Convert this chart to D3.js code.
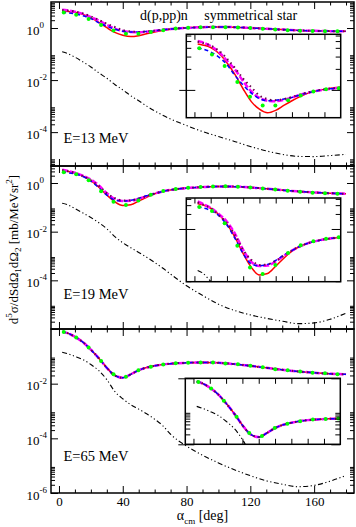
<!DOCTYPE html>
<html>
<head>
<meta charset="utf-8">
<script src="https://cdn.jsdelivr.net/npm/d3@7"></script>
<style>
  html, body { margin: 0; padding: 0; background: #fff; }
  svg text { font-family: "Liberation Serif", "DejaVu Serif", serif; fill: #000; }
</style>
</head>
<body>
<svg id="chart" width="356" height="527"></svg>
<script>
const ALPHA = [2,5,10,15,20,25,30,35,40,45,50,55,60,65,70,80,90,100,110,120,130,140,150,160,170,180];
// angles of the green symbols
const GREEN_ALPHA = [3,10.8,18.6,26.4,34.2,42,49.8,57.6,65.4,73.2,81,88.8,96.6,104.4,112.2,120,127.8,135.6,143.4,151.2,159,166.8,174.6];
const X_MAJOR = [0,40,80,120,160];
const X_MINOR = [10,20,30,50,60,70,90,100,110,130,140,150,170,180];
const INSET_X_TICKS = [0,10,20,30,40,50,60,70,80];

// E = 13 MeV
const e13Red     = [4.55,4.4,4.05,3.35,2.45,1.65,1.03,0.68,0.53,0.47,0.51,0.6,0.7,0.8,0.9,1.02,1.09,1.1,1.08,1.01,0.94,0.87,0.81,0.78,0.76,0.75];
const e13Blue    = [4.0,3.85,3.5,2.95,2.3,1.6,1.17,0.9,0.75,0.7,0.71,0.74,0.78,0.85,0.91,1.01,1.07,1.1,1.08,1.01,0.94,0.87,0.81,0.78,0.76,0.75];
const e13Magenta = [5.0,4.8,4.25,3.5,2.62,1.95,1.33,0.95,0.77,0.7,0.69,0.72,0.78,0.85,0.91,1.01,1.07,1.1,1.08,1.01,0.94,0.87,0.81,0.78,0.76,0.75];
const e13Dotted  = [4.9,4.7,4.3,3.65,2.8,2.05,1.45,1.09,0.83,0.74,0.71,0.74,0.79,0.86,0.92,1.02,1.08,1.1,1.08,1.01,0.94,0.87,0.81,0.78,0.76,0.75];
const e13Green   = [3.95,3.22,2.2,1.3,0.8,0.6,0.6,0.71,0.83,0.95,1.02,1.06,1.08,1.08,1.05,1.0,0.94,0.88,0.83,0.79,0.77,0.76,0.75];
const e13Plain   = [0.123,0.107,0.076,0.05,0.032,0.019,0.0117,0.0068,0.0042,0.0025,0.0016,1.0e-3,6.6e-4,4.5e-4,3.2e-4,1.8e-4,1.05e-4,6.8e-5,4.4e-5,2.8e-5,1.9e-5,1.4e-5,1.17e-5,1.15e-5,1.26e-5,1.4e-5];

// E = 19 MeV
const e19Red     = [3.2,3.05,2.6,1.95,1.25,0.68,0.32,0.17,0.12,0.128,0.18,0.26,0.36,0.45,0.52,0.62,0.68,0.72,0.71,0.66,0.58,0.51,0.45,0.41,0.38,0.36];
const e19Blue    = [2.8,2.65,2.35,1.85,1.2,0.64,0.32,0.2,0.183,0.195,0.235,0.3,0.37,0.45,0.52,0.62,0.68,0.72,0.71,0.66,0.58,0.51,0.45,0.41,0.38,0.36];
const e19Magenta = [3.55,3.2,2.65,2.0,1.4,0.8,0.38,0.22,0.182,0.185,0.225,0.29,0.37,0.45,0.52,0.62,0.68,0.72,0.71,0.66,0.58,0.51,0.45,0.41,0.38,0.36];
const e19Dotted  = [3.4,3.1,2.6,1.9,1.3,0.75,0.38,0.24,0.19,0.195,0.23,0.29,0.37,0.45,0.52,0.62,0.68,0.72,0.71,0.66,0.58,0.51,0.45,0.41,0.38,0.36];
const e19Green   = [2.75,2.3,1.3,0.46,0.17,0.125,0.19,0.33,0.47,0.57,0.64,0.68,0.72,0.73,0.71,0.66,0.6,0.54,0.48,0.44,0.4,0.38,0.36];
const e19Plain   = [0.148,0.132,0.089,0.059,0.038,0.0234,0.0132,0.0063,0.0035,0.0022,0.0014,8.9e-4,5.4e-4,3.2e-4,1.8e-4,6.0e-5,2.4e-5,1.05e-5,5.8e-6,3.8e-6,2.75e-6,2.1e-6,1.66e-6,1.78e-6,2.5e-6,4.5e-6];

// E = 65 MeV (all full calculations coincide)
const e65Theory  = [0.8,0.72,0.52,0.33,0.175,0.085,0.038,0.02,0.0165,0.022,0.031,0.039,0.045,0.05,0.054,0.058,0.06,0.058,0.052,0.045,0.038,0.032,0.028,0.025,0.023,0.022];
const e65Green   = [0.77,0.49,0.21,0.068,0.022,0.018,0.031,0.042,0.05,0.056,0.058,0.06,0.059,0.055,0.051,0.045,0.04,0.034,0.031,0.028,0.025,0.024,0.022];
const e65Plain   = [0.141,0.126,0.1,0.076,0.05,0.03,0.0141,0.0052,0.0028,0.0017,0.00117,7.9e-4,5.0e-4,2.95e-4,1.41e-4,5.2e-5,2.4e-5,1.26e-5,7.1e-6,4.3e-6,2.8e-6,2.1e-6,1.7e-6,1.9e-6,2.7e-6,4.4e-6];

const e13Labels = [0,-2,-4], e19Labels = [0,-2,-4], e65Labels = [-2,-4,-6];

const panels = [
  { top: 2,   bottom: 166, domain: [5e-6, 10], labels: e13Labels, title: "E=13 MeV", titleY: 143,
    red: e13Red, blue: e13Blue, magenta: e13Magenta, dotted: e13Dotted, green: e13Green, plain: e13Plain,
    inset: { x0: 186.3, x1: 340.7, y0: 34.3, y1: 117.7, domain: [0.4, 6.25] } },
  { top: 166, bottom: 329, domain: [1e-6, 5], labels: e19Labels, title: "E=19 MeV", titleY: 298.5,
    red: e19Red, blue: e19Blue, magenta: e19Magenta, dotted: e19Dotted, green: e19Green, plain: e19Plain,
    inset: { x0: 186.3, x1: 340.7, y0: 198, y1: 281.7, domain: [0.088, 4.17] } },
  { top: 329, bottom: 493, domain: [1e-6, 1], labels: e65Labels, title: "E=65 MeV", titleY: 461,
    red: e65Theory, blue: e65Theory, magenta: e65Theory, dotted: e65Theory, green: e65Green, plain: e65Plain,
    inset: { x0: 185.3, x1: 340.3, y0: 378.3, y1: 444.3, domain: [0.01, 1] } }
];

const svg = d3.select("#chart");
const X0 = 51, X1 = 354;
const x = d3.scaleLinear().domain([-5, 185]).range([X0, X1]);

// xmgrace style: majors every second decade, minors 2..9 in those decades
function logTicks(domain, minor) {
  const out = [];
  const lo = Math.floor(Math.log10(domain[0])), hi = Math.ceil(Math.log10(domain[1]));
  for (let e = lo; e <= hi; e++) {
    if (e % 2 !== 0) continue;
    const ks = minor ? [2,3,4,5,6,7,8,9] : [1];
    ks.forEach(k => {
      const v = k * Math.pow(10, e);
      if (v >= domain[0] * 0.999 && v <= domain[1] * 1.001) out.push(v);
    });
  }
  return out;
}

function styleAxis(g) {
  g.select(".domain").remove();
  g.selectAll(".tick line").attr("stroke", "#000").attr("stroke-width", 1);
}

function drawCurves(g, xs, ys, p) {
  const line = d3.line().x((d, i) => xs(ALPHA[i])).y(d => ys(d)).curve(d3.curveMonotoneX);
  g.append("path").datum(p.plain).attr("d", line).attr("fill", "none")
    .attr("stroke", "#000").attr("stroke-width", 1.1).attr("stroke-dasharray", "5,2.5,1.2,2.5,1.2,2.5");
  const styles = [
    [p.red, "#ff0000", 1.5, null],
    [p.magenta, "#ff00ff", 2.5, "6,2"],
    [p.blue, "#0000ff", 1.5, "4,3"],
    [p.dotted, "#670748", 2, "1.5,3.5"]
  ];
  styles.forEach(([vals, col, w, dash]) => {
    const path = g.append("path").datum(vals).attr("d", line).attr("fill", "none")
      .attr("stroke", col).attr("stroke-width", w);
    if (dash) path.attr("stroke-dasharray", dash);
  });
  g.selectAll("circle.green").data(p.green).join("circle").attr("class", "green")
    .attr("cx", (d, i) => xs(GREEN_ALPHA[i])).attr("cy", d => ys(d)).attr("r", 2)
    .attr("fill", "#00ff00");
}

panels.forEach((p, pi) => {
  const y = d3.scaleLog().domain(p.domain).range([p.bottom, p.top]);
  const major = logTicks(p.domain, false), minor = logTicks(p.domain, true);

  svg.append("clipPath").attr("id", "clip" + pi).append("rect")
    .attr("x", X0).attr("y", p.top).attr("width", X1 - X0).attr("height", p.bottom - p.top);
  drawCurves(svg.append("g").attr("clip-path", `url(#clip${pi})`), x, y, p);

  // axes, ticks pointing inward
  [[d3.axisLeft, X0], [d3.axisRight, X1]].forEach(([ax, pos]) => {
    svg.append("g").attr("transform", `translate(${pos},0)`)
      .call(ax(y).tickValues(major).tickSize(-7).tickFormat("")).call(styleAxis);
    svg.append("g").attr("transform", `translate(${pos},0)`)
      .call(ax(y).tickValues(minor).tickSize(-4).tickFormat("")).call(styleAxis);
  });
  svg.append("g").attr("transform", `translate(0,${p.top})`)
    .call(d3.axisTop(x).tickValues(X_MAJOR).tickSize(-7).tickFormat("")).call(styleAxis);
  svg.append("g").attr("transform", `translate(0,${p.top})`)
    .call(d3.axisTop(x).tickValues(X_MINOR).tickSize(-3.5).tickFormat("")).call(styleAxis);
  const bot = svg.append("g").attr("transform", `translate(0,${p.bottom})`)
    .call(d3.axisBottom(x).tickValues(X_MAJOR).tickSize(-7).tickPadding(3.3)
      .tickFormat(pi === panels.length - 1 ? d3.format("d") : ""));
  bot.call(styleAxis);
  bot.selectAll("text").style("font-size", "13px");
  svg.append("g").attr("transform", `translate(0,${p.bottom})`)
    .call(d3.axisBottom(x).tickValues(X_MINOR).tickSize(-3.5).tickFormat("")).call(styleAxis);

  svg.append("rect").attr("x", X0).attr("y", p.top).attr("width", X1 - X0).attr("height", p.bottom - p.top)
    .attr("fill", "none").attr("stroke", "#000").attr("stroke-width", 1.5);

  // decade labels
  p.labels.forEach(e => {
    const t = svg.append("text").attr("x", 26.5).attr("y", y(Math.pow(10, e)) + 6.5).style("font-size", "13px");
    t.append("tspan").text("10");
    t.append("tspan").attr("dy", -6.5).style("font-size", "9px").text(String(e).replace("-", "-"));
  });

  svg.append("text").attr("x", 63.5).attr("y", p.titleY).style("font-size", "14.5px").text(p.title);

  // inset
  const ins = p.inset;
  const xi = d3.scaleLinear().domain([-5, 90]).range([ins.x0, ins.x1]);
  const yi = d3.scaleLog().domain(ins.domain).range([ins.y1, ins.y0]);
  const iMajor = logTicks(ins.domain, false), iMinor = logTicks(ins.domain, true);
  svg.append("rect").attr("x", ins.x0).attr("y", ins.y0).attr("width", ins.x1 - ins.x0).attr("height", ins.y1 - ins.y0)
    .attr("fill", "#fff");
  svg.append("clipPath").attr("id", "iclip" + pi).append("rect")
    .attr("x", ins.x0).attr("y", ins.y0).attr("width", ins.x1 - ins.x0).attr("height", ins.y1 - ins.y0);
  drawCurves(svg.append("g").attr("clip-path", `url(#iclip${pi})`), xi, yi, p);

  svg.append("g").attr("transform", `translate(0,${ins.y0})`)
    .call(d3.axisTop(xi).tickValues(INSET_X_TICKS).tickSize(-5.5).tickFormat("")).call(styleAxis);
  svg.append("g").attr("transform", `translate(0,${ins.y1})`)
    .call(d3.axisBottom(xi).tickValues(INSET_X_TICKS).tickSize(-5.5).tickFormat("")).call(styleAxis);
  svg.append("g").attr("transform", `translate(${ins.x0},0)`)
    .call(d3.axisLeft(yi).tickValues(iMajor).tickSize(-9).tickFormat("")).call(styleAxis);
  svg.append("g").attr("transform", `translate(${ins.x0},0)`)
    .call(d3.axisLeft(yi).tickValues(iMajor).tickSize(7).tickFormat("")).call(styleAxis);
  svg.append("g").attr("transform", `translate(${ins.x0},0)`)
    .call(d3.axisLeft(yi).tickValues(iMinor).tickSize(-5).tickFormat("")).call(styleAxis);
  svg.append("g").attr("transform", `translate(${ins.x1},0)`)
    .call(d3.axisRight(yi).tickValues(iMajor).tickSize(-9).tickFormat("")).call(styleAxis);
  svg.append("g").attr("transform", `translate(${ins.x1},0)`)
    .call(d3.axisRight(yi).tickValues(iMinor).tickSize(-5).tickFormat("")).call(styleAxis);
  svg.append("rect").attr("x", ins.x0).attr("y", ins.y0).attr("width", ins.x1 - ins.x0).attr("height", ins.y1 - ins.y0)
    .attr("fill", "none").attr("stroke", "#000").attr("stroke-width", 1.5);
});

// reaction text
svg.append("text").attr("x", 140).attr("y", 20).style("font-size", "14px").text("d(p,pp)n");
svg.append("text").attr("x", 204.3).attr("y", 20).style("font-size", "14px").text("symmetrical star");

// x title
const xt = svg.append("text").attr("x", 202.5).attr("y", 520).attr("text-anchor", "middle").style("font-size", "14px");
xt.append("tspan").text("α");
xt.append("tspan").attr("dy", 3.5).style("font-size", "9px").text("cm");
xt.append("tspan").attr("dy", -3.5).text(" [deg]");

// y title
const yt = svg.append("text").attr("transform", "translate(17.5,249.5) rotate(-90)")
  .attr("text-anchor", "middle").style("font-size", "13px");
[["d", 0, 13], ["5", -5.5, 9], ["σ/dSdΩ", 5.5, 13], ["1", 3, 9], ["dΩ", -3, 13], ["2", 3, 9],
 [" [mb/MeVsr", -3, 13], ["2", -5.5, 9], ["]", 5.5, 13]].forEach(([s, dy, fs]) => {
  yt.append("tspan").attr("dy", dy).style("font-size", fs + "px").text(s);
});
</script>
</body>
</html>
